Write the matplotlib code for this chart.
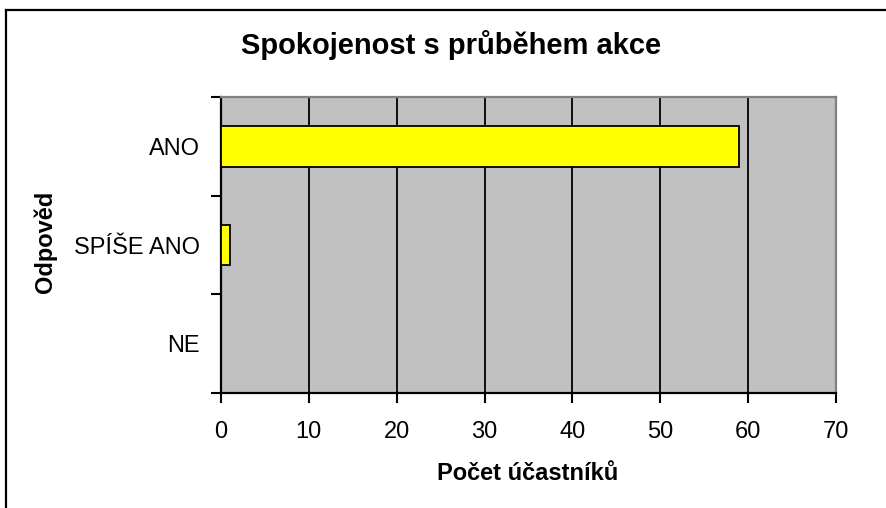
import matplotlib
matplotlib.use("Agg")
import matplotlib.pyplot as plt
from matplotlib.lines import Line2D
import numpy as np

plt.rcParams["font.family"] = ["Liberation Sans", "DejaVu Sans"]

categories = ["ANO", "SPÍŠE ANO", "NE"]
counts = [59, 1, 0]
x_ticks = [0, 10, 20, 30, 40, 50, 60, 70]

W, H = 887, 508
fig = plt.figure(figsize=(W / 100, H / 100), dpi=100)

# plot area in pixels: left 221, right 836, top 97, bottom 393
ax = fig.add_axes([221 / W, 1 - 393 / H, (836 - 221) / W, (393 - 97) / H])
ax.set_facecolor("#C0C0C0")

y = np.arange(len(categories))
ax.barh(y, counts, height=0.41, color="#FFFF00", edgecolor="black", linewidth=1.3, zorder=3)

ax.set_xlim(0, 70)
ax.set_ylim(len(categories) - 0.5, -0.5)

ax.set_xticks(x_ticks)
ax.set_xticklabels([str(v) for v in x_ticks], fontsize=17)
ax.tick_params(axis="x", direction="out", length=7, width=1.5, pad=13)

ax.set_yticks(y)
ax.set_yticklabels(categories, fontsize=17)
ax.tick_params(axis="y", which="major", length=0, pad=15)
ax.set_yticks(np.arange(-0.5, len(categories)), minor=True)
ax.tick_params(axis="y", which="minor", direction="out", length=7, width=1.5)

for v in x_ticks[1:-1]:
    ax.axvline(v, color="black", linewidth=1.3, zorder=2)

for side in ["left", "bottom"]:
    ax.spines[side].set_color("black")
    ax.spines[side].set_linewidth(1.6)
for side in ["top", "right"]:
    ax.spines[side].set_color("#808080")
    ax.spines[side].set_linewidth(1.6)

fig.text(451 / W, 1 - 45 / H, "Spokojenost s průběhem akce", fontsize=21,
         fontweight="bold", ha="center", va="center")
fig.text(528 / W, 1 - 473 / H, "Počet účastníků", fontsize=17,
         fontweight="bold", ha="center", va="center")
fig.text(45 / W, 1 - 242 / H, "Odpověd", fontsize=17, fontweight="bold",
         ha="center", va="center", rotation=90)

# outer chart frame (only left and top edges are visible in the crop)
fig.add_artist(Line2D([6 / W, 6 / W], [0, 1 - 10 / H], color="black", linewidth=1.6,
                      transform=fig.transFigure))
fig.add_artist(Line2D([6 / W, 1], [1 - 10 / H, 1 - 10 / H], color="black", linewidth=1.6,
                      transform=fig.transFigure))

fig.savefig("out.png", dpi=100)
